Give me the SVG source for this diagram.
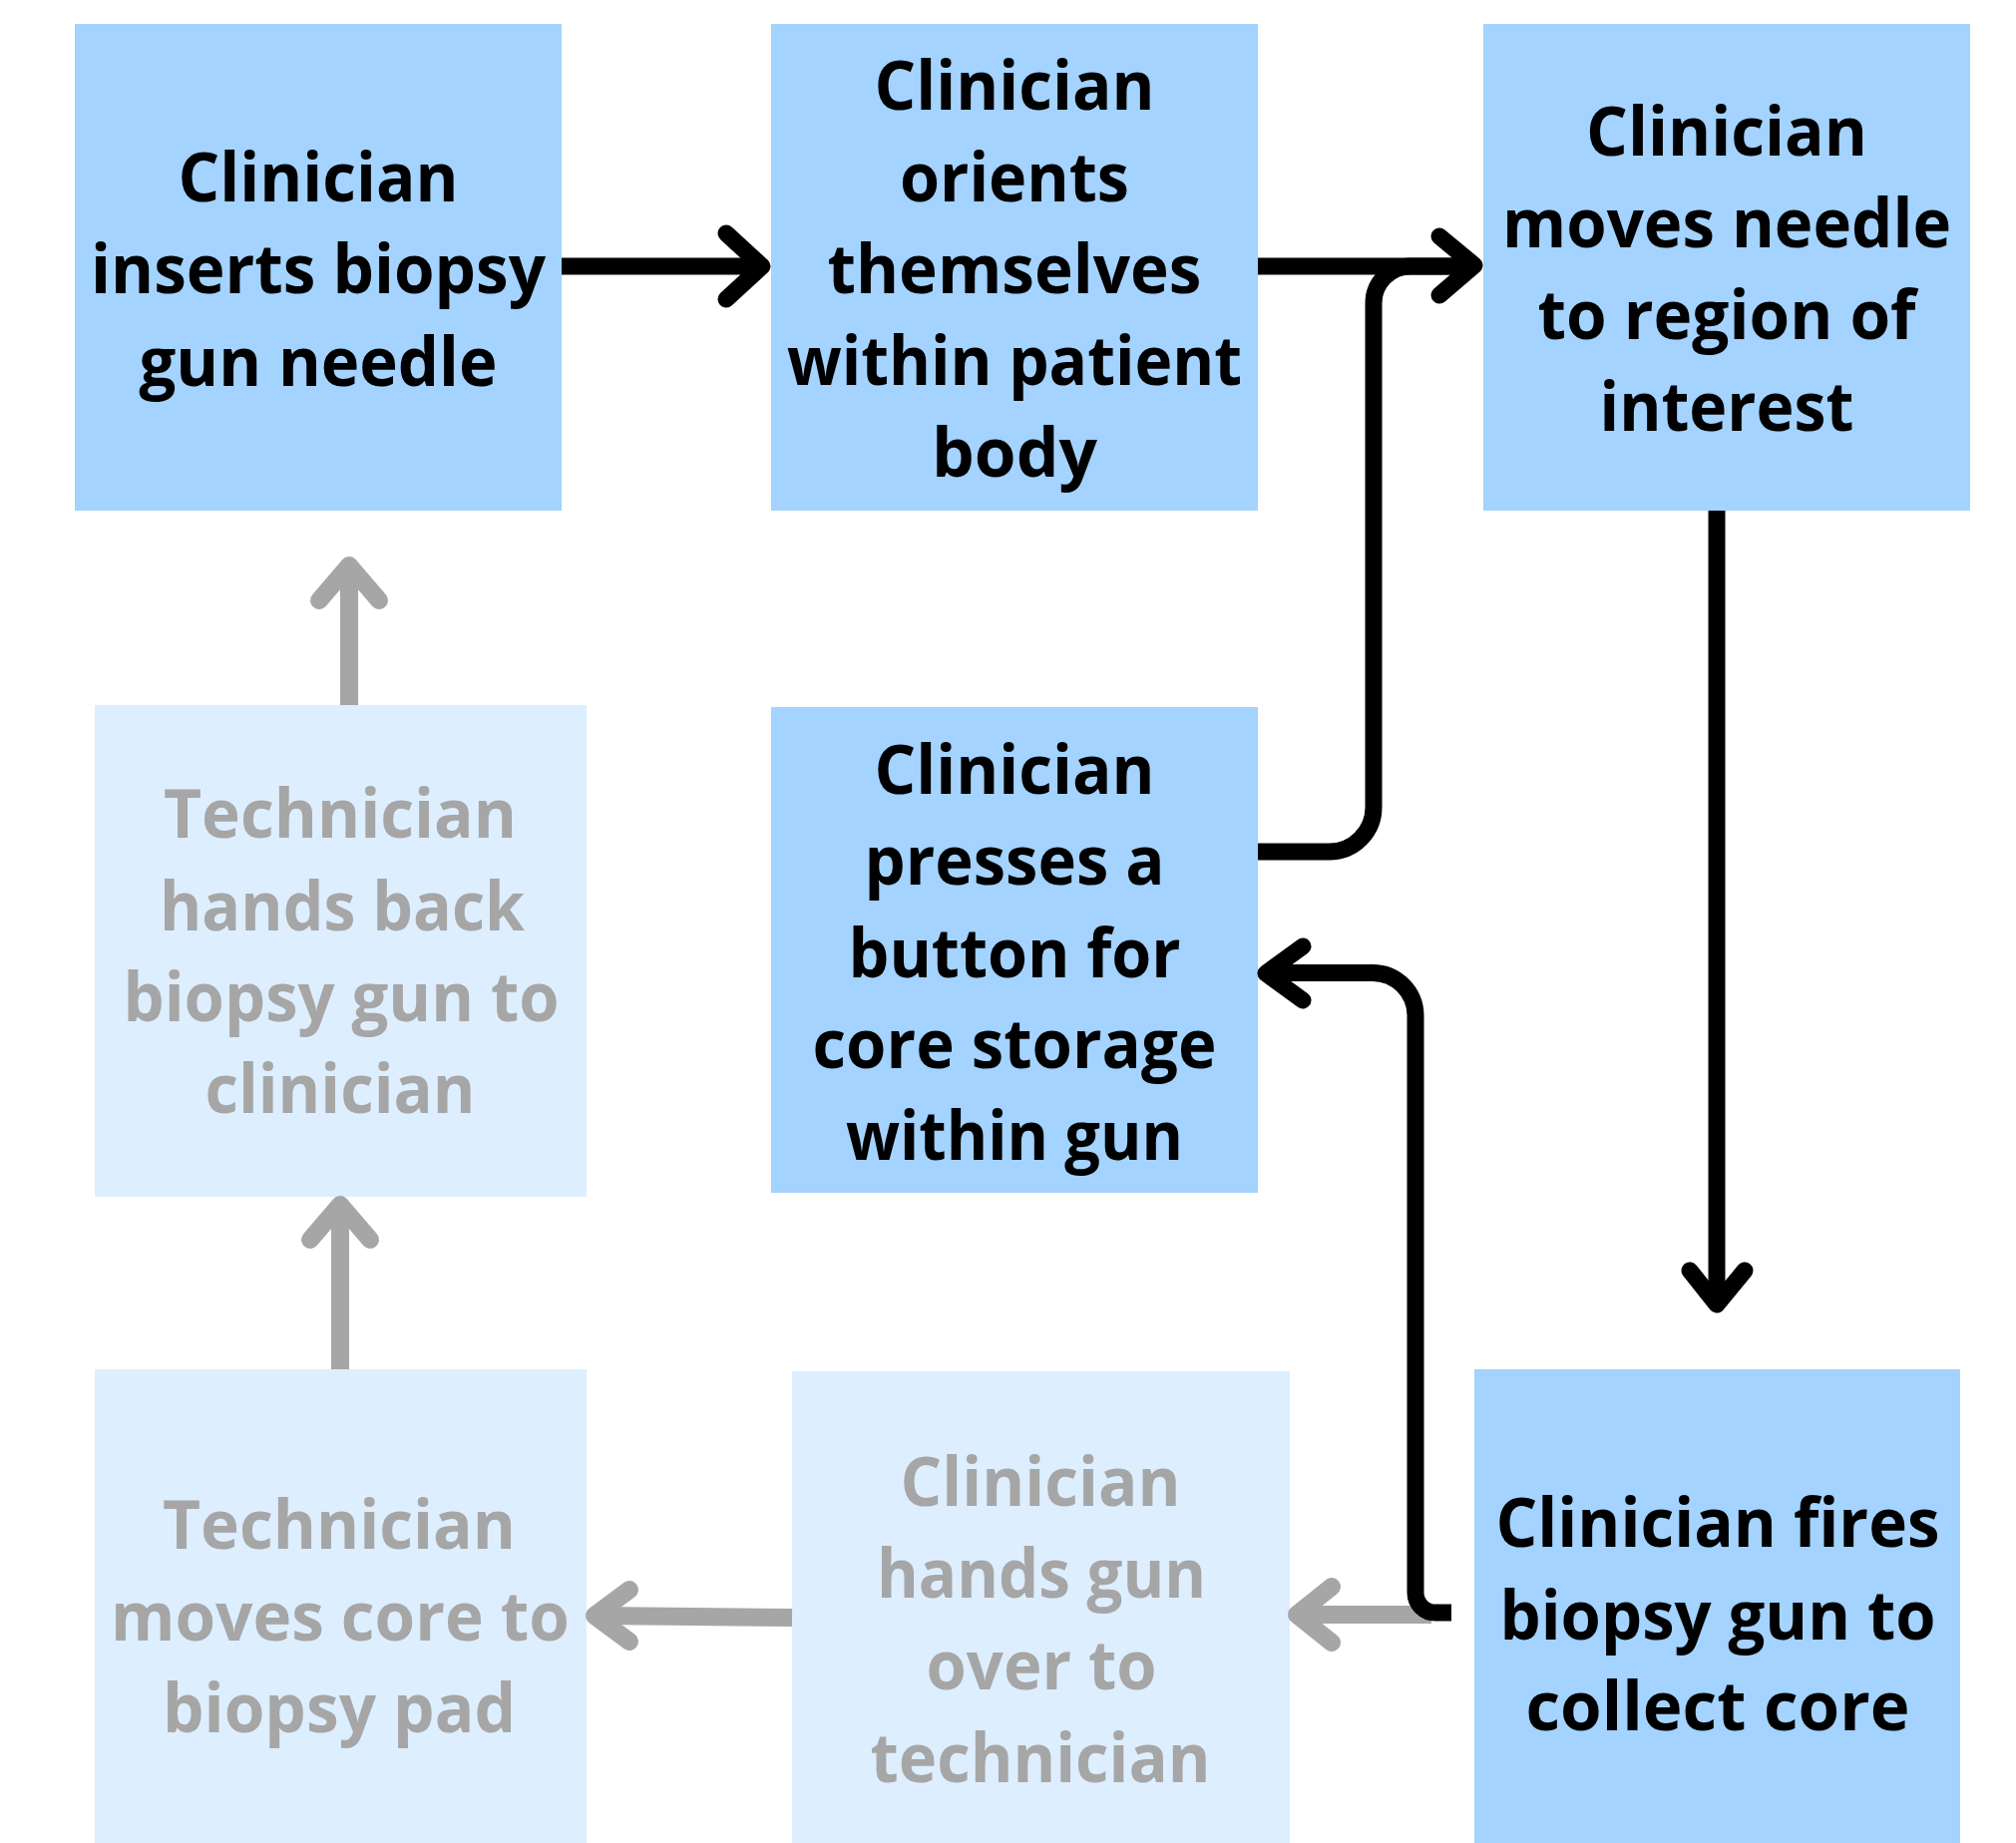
<svg xmlns="http://www.w3.org/2000/svg" width="2021" height="1848" viewBox="0 0 2021 1848">
<style>
.dk{fill:#A3D3FE}
.lt{fill:#DDEEFE}
text{font-family:"Open Sans","Noto Sans","Liberation Sans",sans-serif;font-weight:700;font-size:68px;text-anchor:middle}
.tb{fill:#000}
.tg{fill:#A6A6A6}
.cb{fill:none;stroke:#000;stroke-width:17;stroke-linecap:round;stroke-linejoin:round}
.cg{fill:none;stroke:#A6A6A6;stroke-width:18;stroke-linecap:round;stroke-linejoin:round}
.flat{stroke-linecap:butt}
</style>
<rect width="2021" height="1848" fill="#fff"/>
<g id="nodes">
<g id="n1">
<rect class="dk" x="75" y="24" width="488" height="488"/>
<text class="tb" x="319" y="202" textLength="281" lengthAdjust="spacingAndGlyphs">Clinician</text>
<text class="tb" x="319" y="294" textLength="456" lengthAdjust="spacingAndGlyphs">inserts biopsy</text>
<text class="tb" x="319" y="387" textLength="359" lengthAdjust="spacingAndGlyphs">gun needle</text>
</g>
<g id="n2">
<rect class="dk" x="773" y="24" width="488" height="488"/>
<text class="tb" x="1017" y="110" textLength="281" lengthAdjust="spacingAndGlyphs">Clinician</text>
<text class="tb" x="1017" y="202" textLength="230" lengthAdjust="spacingAndGlyphs">orients</text>
<text class="tb" x="1017" y="294" textLength="375" lengthAdjust="spacingAndGlyphs">themselves</text>
<text class="tb" x="1017" y="386" textLength="456" lengthAdjust="spacingAndGlyphs">within patient</text>
<text class="tb" x="1017" y="478" textLength="166" lengthAdjust="spacingAndGlyphs">body</text>
</g>
<g id="n3">
<rect class="dk" x="1487" y="24" width="488" height="488"/>
<text class="tb" x="1731" y="156" textLength="282" lengthAdjust="spacingAndGlyphs">Clinician</text>
<text class="tb" x="1731" y="248" textLength="450" lengthAdjust="spacingAndGlyphs">moves needle</text>
<text class="tb" x="1731" y="340" textLength="379" lengthAdjust="spacingAndGlyphs">to region of</text>
<text class="tb" x="1731" y="432" textLength="255" lengthAdjust="spacingAndGlyphs">interest</text>
</g>
<g id="n4">
<rect class="dk" x="773" y="709" width="488" height="487"/>
<text class="tb" x="1017" y="796" textLength="281" lengthAdjust="spacingAndGlyphs">Clinician</text>
<text class="tb" x="1017" y="887" textLength="301" lengthAdjust="spacingAndGlyphs">presses a</text>
<text class="tb" x="1017" y="980" textLength="333" lengthAdjust="spacingAndGlyphs">button for</text>
<text class="tb" x="1017" y="1071" textLength="405" lengthAdjust="spacingAndGlyphs">core storage</text>
<text class="tb" x="1017" y="1163" textLength="338" lengthAdjust="spacingAndGlyphs">within gun</text>
</g>
<g id="n5">
<rect class="lt" x="95" y="707" width="493" height="493"/>
<text class="tg" x="341" y="840" font-size="66" textLength="354" lengthAdjust="spacingAndGlyphs">Technician</text>
<text class="tg" x="343" y="933" font-size="66" textLength="366" lengthAdjust="spacingAndGlyphs">hands back</text>
<text class="tg" x="342" y="1024" font-size="66" textLength="437" lengthAdjust="spacingAndGlyphs">biopsy gun to</text>
<text class="tg" x="341" y="1116" font-size="66" textLength="271" lengthAdjust="spacingAndGlyphs">clinician</text>
</g>
<g id="n6">
<rect class="lt" x="95" y="1373" width="493" height="487"/>
<text class="tg" x="340" y="1553" textLength="354" lengthAdjust="spacingAndGlyphs">Technician</text>
<text class="tg" x="341" y="1645" textLength="460" lengthAdjust="spacingAndGlyphs">moves core to</text>
<text class="tg" x="340" y="1737" textLength="354" lengthAdjust="spacingAndGlyphs">biopsy pad</text>
</g>
<g id="n7">
<rect class="lt" x="794" y="1375" width="499" height="485"/>
<text class="tg" x="1043" y="1510" textLength="281" lengthAdjust="spacingAndGlyphs">Clinician</text>
<text class="tg" x="1044" y="1602" textLength="330" lengthAdjust="spacingAndGlyphs">hands gun</text>
<text class="tg" x="1044" y="1694" textLength="231" lengthAdjust="spacingAndGlyphs">over to</text>
<text class="tg" x="1043" y="1787" textLength="341" lengthAdjust="spacingAndGlyphs">technician</text>
</g>
<g id="n8">
<rect class="dk" x="1478" y="1373" width="487" height="487"/>
<text class="tb" x="1722" y="1551" textLength="445" lengthAdjust="spacingAndGlyphs">Clinician fires</text>
<text class="tb" x="1722" y="1644" textLength="437" lengthAdjust="spacingAndGlyphs">biopsy gun to</text>
<text class="tb" x="1722" y="1735" textLength="385" lengthAdjust="spacingAndGlyphs">collect core</text>
</g>
</g>
<g id="connectors">
<!-- grey connectors -->
<path class="cg flat" d="M1435 1619 H1302"/>
<path class="cg" d="M1335 1591 L1300 1619 L1335 1647"/>
<path class="cg flat" d="M794 1622 L600 1620"/>
<path class="cg" d="M631 1594 L596 1620 L631 1646"/>
<path class="cg flat" d="M341 1373 V1210"/>
<path class="cg" d="M311 1243 L341 1208 L371 1243"/>
<path class="cg flat" d="M350 707 V570"/>
<path class="cg" d="M320 602 L350 567 L380 602"/>
<!-- black connectors -->
<path class="cb flat" d="M563 267 H762"/>
<path class="cb" d="M728 234 L764 267 L728 300"/>
<path class="cb flat" d="M1261 267 H1476"/>
<path class="cb" d="M1443 237 L1478 266 L1443 296"/>
<path class="cb flat" d="M1261 854 H1332.5 A44.5 44.5 0 0 0 1377 809.5 V304 A37 37 0 0 1 1414 267 H1470"/>
<path class="cb flat" d="M1721 512 V1306"/>
<path class="cb" d="M1694 1274 L1721 1308 L1749 1274"/>
<path class="cb flat" d="M1455 1617 H1439 A20 20 0 0 1 1419 1597 V1018.5 A43 43 0 0 0 1376 975.5 H1271"/>
<path class="cb" d="M1306 949 L1269 976 L1306 1003"/>
</g>
</svg>
